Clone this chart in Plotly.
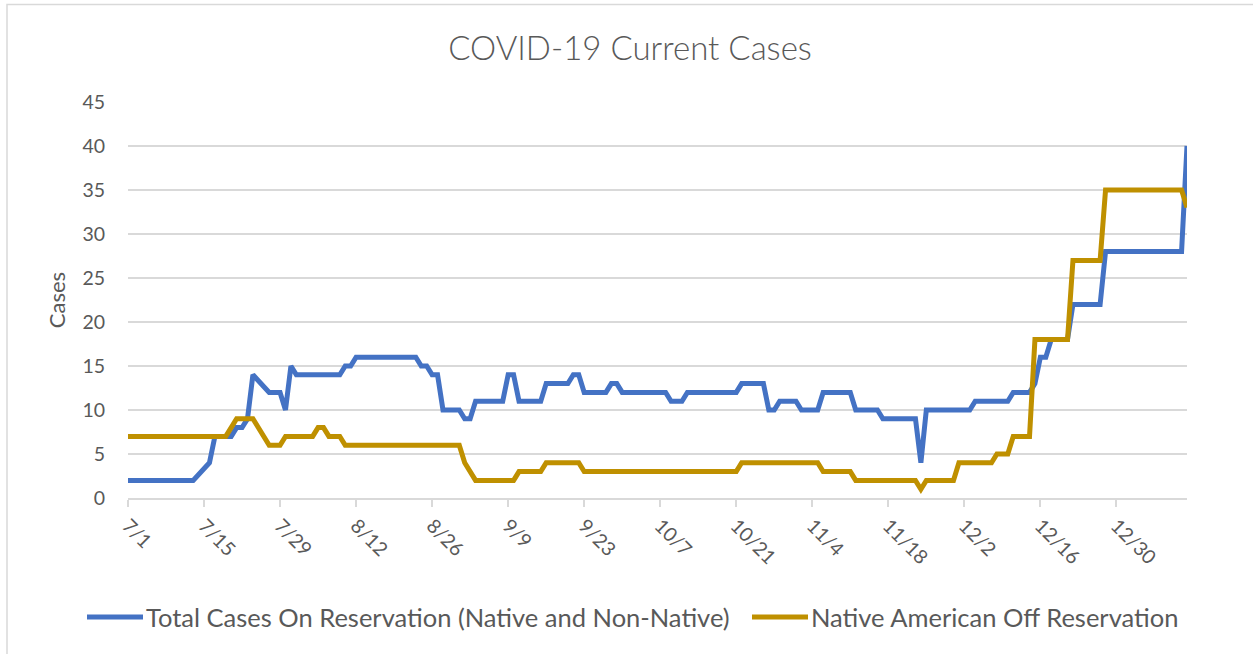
import pandas as pd
import plotly.graph_objects as go

# ---- data (None = no reading that day) ----
start_date = "2020-07-01"

total_on_reservation = [
    2, 2, 2, 2, 2, 2, 2, 2, 2, 2, 2, 2, 2,
    None, None, 4, 7, 7, 7, 7, 8, 8, 9, 14, None, None, 12, 12, 12, 10, 15,
    14, 14, 14, 14, 14, 14, 14, 14, 14,
    15, 15,
    16, 16, 16, 16, 16, 16, 16, 16, 16, 16, 16, 16,
    15, 15, 14, 14,
    10, 10, 10, 10, 9, 9,
    11, 11, 11, 11, 11, 11, 14, 14,
    11, 11, 11, 11, 11,
    13, 13, 13, 13, 13, 14, 14,
    12, 12, 12, 12, 12, 13, 13,
    12, 12, 12, 12, 12, 12, 12, 12, 12,
    11, 11, 11,
    12, 12, 12, 12, 12, 12, 12, 12, 12, 12,
    13, 13, 13, 13, 13,
    10, 10, 11, 11, 11, 11,
    10, 10, 10, 10,
    12, 12, 12, 12, 12, 12,
    10, 10, 10, 10, 10,
    9, 9, 9, 9, 9, 9, 9,
    4,
    10, 10, 10, 10, 10, 10, 10, 10, 10,
    11, 11, 11, 11, 11, 11, 11,
    12, 12, 12, 12,
    13, 16, 16,
    18, 18, 18, 18,
    22, 22, 22, 22, 22, 22,
    28, 28, 28, 28, 28, 28, 28, 28, 28, 28, 28, 28, 28, 28, 28,
    40,
]

native_off_reservation = [
    7, 7, 7, 7, 7, 7, 7, 7, 7, 7, 7, 7, 7, 7, 7, 7, 7, 7, 7,
    8, 9, 9, 9, 9, None, None, 6, 6, 6,
    7, 7, 7, 7, 7, 7, 8, 8, 7, 7, 7,
    6, 6, 6, 6, 6, 6, 6, 6, 6, 6, 6, 6, 6, 6, 6, 6, 6, 6, 6, 6, 6, 6,
    4, None,
    2, 2, 2, 2, 2, 2, 2, 2,
    3, 3, 3, 3, 3,
    4, 4, 4, 4, 4, 4, 4,
    3, 3, 3, 3, 3, 3, 3, 3, 3, 3, 3, 3, 3, 3, 3, 3, 3, 3, 3, 3,
    3, 3, 3, 3, 3, 3, 3, 3, 3,
    4, 4, 4, 4, 4, 4, 4, 4, 4, 4, 4, 4, 4, 4, 4,
    3, 3, 3, 3, 3, 3,
    2, 2, 2, 2, 2, 2, 2, 2, 2, 2, 2, 2,
    1,
    2, 2, 2, 2, 2, 2,
    4, 4, 4, 4, 4, 4, 4,
    5, 5, 5,
    7, 7, 7, 7,
    18, 18, 18, 18, 18, 18, 18,
    27, 27, 27, 27, 27, 27,
    35, 35, 35, 35, 35, 35, 35, 35, 35, 35, 35, 35, 35, 35, 35,
    33,
]

tick_dates = ["2020-07-01", "2020-07-15", "2020-07-29", "2020-08-12", "2020-08-26",
              "2020-09-09", "2020-09-23", "2020-10-07", "2020-10-21", "2020-11-04",
              "2020-11-18", "2020-12-02", "2020-12-16", "2020-12-30"]
tick_labels = ["7/1", "7/15", "7/29", "8/12", "8/26", "9/9", "9/23", "10/7",
               "10/21", "11/4", "11/18", "12/2", "12/16", "12/30"]

series_names = ["Total Cases On Reservation (Native and Non-Native)",
                "Native American Off Reservation"]
series_colors = ["#4472C4", "#BF9000"]

dates = pd.date_range(start_date, periods=len(total_on_reservation), freq="D")

# ---- styling ----
W, H = 1253, 654
ML, MT = 128, 102
MR = W - 1187
MB = H - 498
TXT = "#595959"
GRID = "#d9d9d9"
FONT = "Lato"

fig = go.Figure()
for vals, name, col in zip([total_on_reservation, native_off_reservation],
                           series_names, series_colors):
    fig.add_trace(go.Scatter(x=dates, y=vals, mode="lines", name=name,
                             connectgaps=True, showlegend=False,
                             line=dict(color=col, width=5)))

pw = W - ML - MR
ph = H - MT - MB


def px_x(px):
    return (px - ML) / pw


def px_y(py):
    return (H - MB - py) / ph


# custom legend (line sample + label), positioned like the original
legend_line_x = [(87, 143), (752, 808)]
legend_text_x = [144, 809]
legend_y = 617
shapes = [dict(type="rect", xref="paper", yref="paper",
               x0=px_x(7), x1=px_x(W + 20), y0=px_y(H + 20), y1=px_y(4.5),
               line=dict(color=GRID, width=1.5), fillcolor="rgba(0,0,0,0)",
               layer="below")]
annotations = []
for (a, b), tx, name, col in zip(legend_line_x, legend_text_x, series_names, series_colors):
    shapes.append(dict(type="line", xref="paper", yref="paper",
                       x0=px_x(a), x1=px_x(b), y0=px_y(legend_y), y1=px_y(legend_y),
                       line=dict(color=col, width=5)))
    annotations.append(dict(text=name, xref="paper", yref="paper",
                            x=px_x(tx), y=px_y(legend_y), xanchor="left", yanchor="middle",
                            showarrow=False,
                            font=dict(size=25.5, color=TXT, family=FONT)))

fig.update_layout(
    width=W, height=H,
    margin=dict(l=ML, r=MR, t=MT, b=MB, pad=0),
    paper_bgcolor="white", plot_bgcolor="white",
    font=dict(family=FONT, color=TXT),
    title=dict(text="COVID-19 Current Cases", x=630 / W, xref="container",
               xanchor="center", y=1 - 48 / H, yref="container", yanchor="middle",
               font=dict(size=33, color=TXT, family=FONT, weight=300)),
    showlegend=False,
    xaxis=dict(
        type="date",
        range=[dates[0], dates[-1]],
        tickvals=tick_dates, ticktext=tick_labels, tickangle=45,
        tickfont=dict(size=19.5, color=TXT, family=FONT),
        showgrid=False, zeroline=False,
        showline=True, linecolor=GRID, linewidth=1.5,
        ticks="outside", tickcolor=GRID, ticklen=7, tickwidth=1.5,
    ),
    yaxis=dict(
        range=[0, 45], dtick=5, tick0=0,
        tickfont=dict(size=19.5, color=TXT, family=FONT),
        showgrid=True, gridcolor=GRID, gridwidth=1.5,
        zeroline=False, showline=False, ticks="",
        ticklabelstandoff=22,
        title=dict(text="Cases", font=dict(size=22, color=TXT, family=FONT), standoff=10),
    ),
    shapes=shapes,
    annotations=annotations,
)

fig.write_html(
    "out.html",
    config={"displayModeBar": False},
    post_script="document.body.style.margin='0px';document.body.style.overflow='hidden';",
)
